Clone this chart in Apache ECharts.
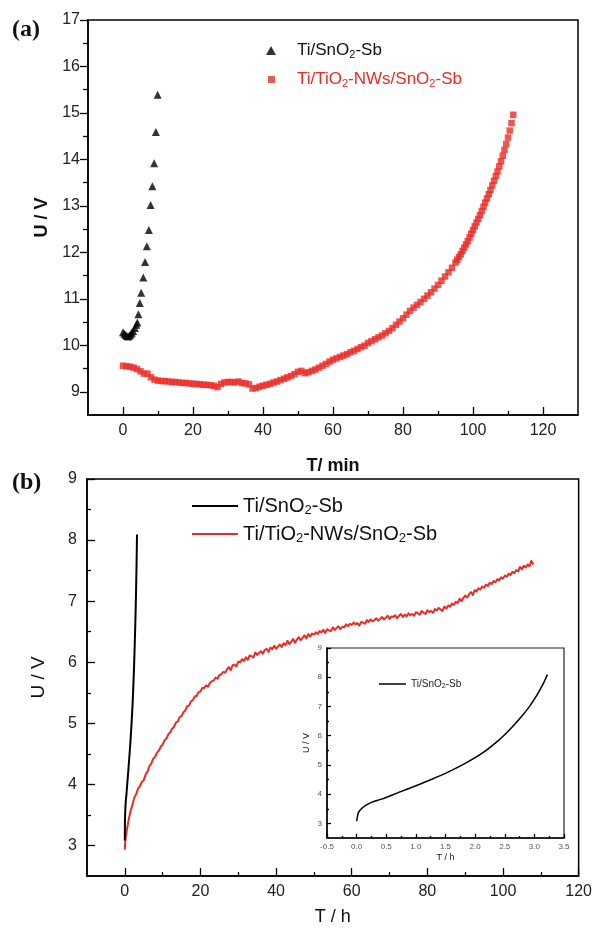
<!DOCTYPE html>
<html>
<head>
<meta charset="utf-8">
<script src="https://cdn.jsdelivr.net/npm/echarts@6/dist/echarts.min.js"></script>
<style>html,body{margin:0;padding:0;background:#fff}#c{width:595px;height:930px}</style>
</head>
<body>
<div id="c"></div>
<script>
// ---------- Panel (a) data ----------
const aBlackT = [0,0.4,0.8,1.1,1.5,1.9,2.2,2.5,2.9,3.4,3.8,4.1,4.4,4.8,5.2,5.8,6.3,6.8,7.4,7.9,8.4,8.9,9.4,9.9];
const aBlackU = [10.28,10.25,10.22,10.20,10.19,10.21,10.24,10.27,10.31,10.37,10.44,10.49,10.67,10.91,11.13,11.46,11.79,12.13,12.48,13.02,13.42,13.92,14.59,15.39];
// red squares, T = 0,1,2,...,95 min
const aRedU = [9.56,9.55,9.54,9.52,9.49,9.44,9.39,9.39,9.31,9.26,
 9.24,9.23,9.23,9.22,9.21,9.21,9.20,9.19,9.19,9.18,
 9.17,9.17,9.16,9.15,9.15,9.14,9.13,9.10,9.17,9.20,
 9.21,9.21,9.20,9.22,9.19,9.18,9.16,9.07,9.08,9.11,
 9.13,9.15,9.17,9.20,9.22,9.25,9.28,9.31,9.34,9.38,
 9.43,9.45,9.40,9.42,9.45,9.48,9.52,9.56,9.60,9.65,
 9.69,9.72,9.75,9.78,9.81,9.85,9.88,9.92,9.96,9.99,
 10.05,10.09,10.13,10.17,10.21,10.26,10.31,10.37,10.44,10.51,
 10.58,10.66,10.74,10.81,10.87,10.93,11.00,11.07,11.14,11.22,
 11.30,11.39,11.48,11.57,11.67,11.78];
// red squares, T = 95.5, 96, ..., 111.5 min
const aRedU2 = [11.84,11.90,11.96,12.03,12.10,12.17,12.24,12.32,12.40,12.48,
 12.56,12.64,12.72,12.80,12.89,12.98,13.07,13.16,13.25,13.34,
 13.44,13.54,13.64,13.74,13.85,13.96,14.08,14.20,14.33,14.47,
 14.62,14.78,14.96];
const aXTicks = [0,20,40,60,80,100,120];
const aXMinor = [10,30,50,70,90,110];
const aYTicks = [9,10,11,12,13,14,15,16,17];
const aYMinor = [9.5,10.5,11.5,12.5,13.5,14.5,15.5,16.5];

// ---------- Panel (b) data ----------
const bRedHeadT = [0,0.1,0.25,0.5,0.75];
const bRedHeadU = [2.93,3.05,3.14,3.24,3.33];
// T = 1.0, 1.5, ..., 108 h
const bRedU = [3.42,3.56,3.66,3.78,3.84,3.93,3.97,4.04,4.07,4.16,
 4.21,4.30,4.34,4.42,4.45,4.52,4.55,4.62,4.65,4.72,
 4.75,4.82,4.85,4.91,4.94,5.01,5.03,5.10,5.12,5.18,
 5.21,5.28,5.29,5.36,5.38,5.44,5.45,5.51,5.52,5.58,
 5.58,5.62,5.60,5.66,5.69,5.70,5.75,5.73,5.79,5.80,
 5.84,5.83,5.88,5.92,5.87,5.95,5.96,5.93,6.01,6.00,
 6.05,6.02,6.08,6.04,6.11,6.10,6.08,6.16,6.12,6.15,
 6.18,6.14,6.20,6.22,6.17,6.24,6.21,6.27,6.22,6.26,
 6.29,6.25,6.31,6.28,6.35,6.30,6.33,6.38,6.32,6.37,
 6.41,6.36,6.40,6.44,6.39,6.46,6.42,6.47,6.45,6.49,
 6.46,6.51,6.49,6.53,6.48,6.54,6.52,6.51,6.57,6.53,
 6.56,6.59,6.54,6.58,6.57,6.62,6.59,6.63,6.61,6.65,
 6.62,6.64,6.60,6.66,6.65,6.63,6.69,6.66,6.70,6.67,
 6.69,6.72,6.68,6.71,6.74,6.70,6.73,6.76,6.71,6.75,
 6.74,6.77,6.72,6.76,6.79,6.74,6.78,6.75,6.80,6.77,
 6.79,6.76,6.82,6.80,6.78,6.84,6.81,6.79,6.85,6.82,
 6.84,6.81,6.87,6.85,6.89,6.86,6.84,6.91,6.88,6.93,
 6.91,6.96,6.94,6.99,6.97,7.04,7.00,7.05,7.09,7.06,
 7.11,7.15,7.10,7.18,7.16,7.21,7.19,7.24,7.22,7.27,
 7.25,7.30,7.28,7.33,7.31,7.36,7.34,7.39,7.37,7.42,
 7.40,7.45,7.43,7.48,7.46,7.51,7.49,7.56,7.52,7.58,
 7.55,7.60,7.57,7.66,7.60];
// Ti/SnO2-Sb (used in main panel b and in the inset)
const cT = [0,0.01,0.03,0.08,0.14,0.25,0.42,0.71,0.99,1.27,1.55,1.84,2.12,2.40,2.57,2.74,2.90,3.00,3.08,3.15,3.22];
const cU = [3.08,3.20,3.37,3.50,3.60,3.72,3.83,4.06,4.28,4.51,4.76,5.06,5.40,5.85,6.18,6.55,6.95,7.25,7.52,7.78,8.09];
const bXTicks = [0,20,40,60,80,100,120];
const bXMinor = [10,30,50,70,90,110];
const bYTicks = [3,4,5,6,7,8,9];
const bYMinor = [3.5,4.5,5.5,6.5,7.5,8.5];
const cXTicks = [-0.5,0,0.5,1,1.5,2,2.5,3,3.5];
const cXMinor = [-0.25,0.25,0.75,1.25,1.75,2.25,2.75,3.25];
const cYTicks = [3,4,5,6,7,8,9];
const cYMinor = [3.5,4.5,5.5,6.5,7.5,8.5];

const labelA = 'Ti/SnO{s|2}-Sb';
const labelB = 'Ti/TiO{s|2}-NWs/SnO{s|2}-Sb';

// ---------- build ----------
const RED = '#ec2b25';
const FONT = 'Arial, "Liberation Sans", sans-serif';
const aBlack = aBlackT.map((t,i)=>[t,aBlackU[i]]);
const aRed = aRedU.map((u,i)=>[i,u]).concat(aRedU2.map((u,i)=>[95.5+0.5*i,u]));
const bRed = bRedHeadT.map((t,i)=>[t,bRedHeadU[i]]).concat(bRedU.map((u,i)=>[1+0.5*i,u]));
const cLine = cT.map((t,i)=>[t,cU[i]]);

function mainX(grid, min, max, ticks, fs, name, nameGap, bold, tickLen, labelFmt, labelColor, nameSize){
  return {type:'value', gridIndex:grid, min:min, max:max, position:'bottom',
    name:name, nameLocation:'middle', nameGap:nameGap,
    nameTextStyle:{fontFamily:FONT, fontSize:nameSize, fontWeight:bold?'bold':'normal', color:'#111'},
    axisLine:{show:true, onZero:false, lineStyle:{color:'#000', width:1.5}},
    axisTick:{show:true, inside:true, length:tickLen, customValues:ticks, lineStyle:{color:'#000', width:1.3}},
    axisLabel:{show:true, customValues:ticks, fontFamily:FONT, fontSize:fs, color:labelColor, margin:fs>10?8:5, formatter:labelFmt},
    splitLine:{show:false}};
}
function minorX(grid, min, max, ticks, len){
  return {type:'value', gridIndex:grid, min:min, max:max, position:'bottom',
    axisLine:{show:false, onZero:false}, axisLabel:{show:false}, splitLine:{show:false},
    axisTick:{show:true, inside:true, length:len, customValues:ticks, lineStyle:{color:'#000', width:1.3}}};
}
function mainY(grid, min, max, ticks, fs, name, nameGap, bold, inside, tickLen, labelColor, nameSize, margin){
  return {type:'value', gridIndex:grid, min:min, max:max, position:'left',
    name:name, nameLocation:'middle', nameGap:nameGap,
    nameTextStyle:{fontFamily:FONT, fontSize:nameSize, fontWeight:bold?'bold':'normal', color:'#111'},
    axisLine:{show:true, onZero:false, lineStyle:{color:'#000', width:1.5}},
    axisTick:{show:true, inside:inside, length:tickLen, customValues:ticks, lineStyle:{color:'#000', width:1.3}},
    axisLabel:{show:true, customValues:ticks, fontFamily:FONT, fontSize:fs, color:labelColor, margin:margin},
    splitLine:{show:false}};
}
function minorY(grid, min, max, ticks, inside, len){
  return {type:'value', gridIndex:grid, min:min, max:max, position:'left',
    axisLine:{show:false, onZero:false}, axisLabel:{show:false}, splitLine:{show:false},
    axisTick:{show:true, inside:inside, length:len, customValues:ticks, lineStyle:{color:'#000', width:1.3}}};
}

const richFor = (fs, sub, pad) => ({s:{fontSize:sub, padding:[pad,0,0,0], fontFamily:FONT}});

const option = {
  animation:false,
  backgroundColor:'#fff',
  grid:[
    {left:88, top:20, right:17, bottom:515, show:true, borderColor:'#000', borderWidth:1.5, backgroundColor:'#fff'},
    {left:87, top:479, right:16, bottom:54, show:true, borderColor:'#000', borderWidth:1.5, backgroundColor:'#fff'},
    {left:327, top:648, right:31, bottom:92, show:true, borderColor:'#222', borderWidth:1.2, backgroundColor:'#fff'}
  ],
  xAxis:[
    mainX(0,-10,130,aXTicks,16,'T/ min',42,true,8,null,'#222',18),
    minorX(0,-10,130,aXMinor,4),
    mainX(1,-10,120,bXTicks,16,'T / h',32,false,8,null,'#222',18),
    minorX(1,-10,120,bXMinor,4),
    mainX(2,-0.5,3.5,cXTicks,8,'T / h',15,false,4,v=>v.toFixed(1),'#555',9),
    minorX(2,-0.5,3.5,cXMinor,2)
  ],
  yAxis:[
    mainY(0,8.5,17,aYTicks,16,'U / V',34,true,false,8,'#222',18,8),
    minorY(0,8.5,17,aYMinor,false,5),
    mainY(1,2.5,9,bYTicks,16,'U / V',39,false,true,8,'#222',19,10),
    minorY(1,2.5,9,bYMinor,true,4),
    mainY(2,2.5,9,cYTicks,8,'U / V',16,false,true,4,'#555',9,5),
    minorY(2,2.5,9,cYMinor,true,2)
  ],
  legend:[
    {left:266, top:42, orient:'vertical', itemWidth:10, itemHeight:9, padding:0,
     data:[{name:'a1', icon:'triangle', itemStyle:{color:'#000'}}],
     formatter:()=>labelA,
     textStyle:{fontFamily:FONT, fontSize:17, color:'#111', padding:[0,0,0,16], rich:richFor(17,11,8)}},
    {left:268, top:71, orient:'vertical', itemWidth:7, itemHeight:7, padding:0,
     data:[{name:'a2', icon:'rect', itemStyle:{color:RED}}],
     formatter:()=>labelB,
     textStyle:{fontFamily:FONT, fontSize:17, color:RED, padding:[0,0,0,17], rich:richFor(17,11,8)}},
    {left:192, top:496, orient:'vertical', itemWidth:46, itemHeight:2, itemGap:7, padding:0,
     data:[{name:'b1', icon:'rect', itemStyle:{color:'#000', borderWidth:0}},
           {name:'b2', icon:'rect', itemStyle:{color:RED, borderWidth:0, borderColor:'transparent'}, lineStyle:{width:0, opacity:0}}],
     formatter:n=> n==='b1'?labelA:labelB,
     textStyle:{fontFamily:FONT, fontSize:20, color:'#111', rich:richFor(20,13,9)}},
    {left:379, top:679, orient:'vertical', itemWidth:27, itemHeight:1.5, padding:0,
     data:[{name:'c1', icon:'rect', itemStyle:{color:'#000'}}],
     formatter:()=>labelA,
     textStyle:{fontFamily:FONT, fontSize:10, color:'#222', rich:richFor(10,7,4)}}
  ],
  series:[
    {name:'a1', type:'scatter', xAxisIndex:0, yAxisIndex:0, symbol:'triangle', symbolSize:8, itemStyle:{color:'#000'}, data:aBlack},
    {name:'a2', type:'scatter', xAxisIndex:0, yAxisIndex:0, symbol:'rect', symbolSize:6.5, itemStyle:{color:RED}, data:aRed},
    {name:'b1', type:'line', xAxisIndex:2, yAxisIndex:2, showSymbol:false, symbol:'none', lineStyle:{color:'#000', width:2}, itemStyle:{color:'#000'}, data:cLine},
    {name:'b2', type:'lines', coordinateSystem:'cartesian2d', xAxisIndex:2, yAxisIndex:2, polyline:true, large:false,
     lineStyle:{color:RED, width:2, opacity:1, join:'round'}, itemStyle:{color:RED}, data:[{coords:bRed}]},
    {name:'c1', type:'line', xAxisIndex:4, yAxisIndex:4, showSymbol:false, symbol:'none', smooth:0.3, lineStyle:{color:'#000', width:1.5}, itemStyle:{color:'#000'}, data:cLine}
  ],
  graphic:[
    {type:'text', left:12, top:18, style:{text:'(a)', font:'bold 24px "Liberation Serif", "Times New Roman", serif', fill:'#111'}},
    {type:'text', left:12, top:471, style:{text:'(b)', font:'bold 24px "Liberation Serif", "Times New Roman", serif', fill:'#111'}}
  ]
};
const chart = echarts.init(document.getElementById('c'), null, {renderer:'canvas'});
chart.setOption(option);
</script>
</body>
</html>
